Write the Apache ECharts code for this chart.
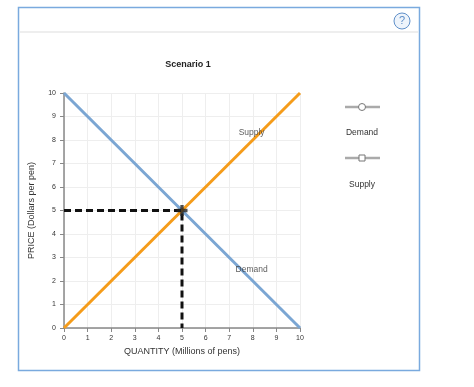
<!DOCTYPE html>
<html><head><meta charset="utf-8">
<script src="https://cdn.jsdelivr.net/npm/echarts@6/dist/echarts.min.js"></script>
<style>html,body{margin:0;padding:0;background:#fff}#c{width:474px;height:387px}</style>
</head><body><div id="c"></div>
<script>
const xTicks = [0,1,2,3,4,5,6,7,8,9,10];
const yTicks = [0,1,2,3,4,5,6,7,8,9,10];
const demandData = [[0,10],[10,0]];
const supplyData = [[0,0],[10,10]];
const equilibriumGuide = [[0,5],[5,5],[5,0]];
const equilibriumPoint = [[5,5]];
const curveLabels = [{name:'Supply', value:[7.95,8.3]},{name:'Demand', value:[7.95,2.5]}];

const chart = echarts.init(document.getElementById('c'));
const axisCommon = {
  type:'value', min:0, max:10, interval:1,
  axisLine:{show:true, lineStyle:{color:'#888', width:1.5}},
  axisTick:{show:true, inside:false, length:4, lineStyle:{color:'#888'}},
  splitLine:{show:true, lineStyle:{color:'#eee'}},
  axisLabel:{fontSize:7, color:'#333', fontFamily:'Arial, Liberation Sans'}
};
chart.setOption({
  animation:false,
  title:{text:'Scenario 1', left:183, top:55, textAlign:'center',
    textStyle:{fontSize:9, fontWeight:'bold', color:'#222', fontFamily:'Liberation Sans'}},
  grid:{left:64, right:474-300, top:93, bottom:387-328},
  xAxis:Object.assign({}, axisCommon, {
    name:'QUANTITY (Millions of pens)', nameLocation:'middle', nameGap:16,
    nameTextStyle:{fontSize:9, color:'#333', fontFamily:'Liberation Sans'},
    axisLabel:Object.assign({}, axisCommon.axisLabel, {margin:7})
  }),
  yAxis:Object.assign({}, axisCommon, {
    name:'PRICE (Dollars per pen)', nameLocation:'middle', nameGap:28,
    nameTextStyle:{fontSize:9, color:'#333', fontFamily:'Liberation Sans'},
    axisLabel:Object.assign({}, axisCommon.axisLabel, {margin:8})
  }),
  graphic:[
    {type:'rect', shape:{x:18.5, y:7.5, width:401, height:363}, style:{fill:'none', stroke:'#7aaade', lineWidth:1.5}},
    {type:'line', shape:{x1:20, y1:32, x2:418, y2:32}, style:{stroke:'#e8e8e8', lineWidth:1.5}},
    {type:'circle', shape:{cx:402, cy:21, r:8}, style:{fill:'#eef4fb', stroke:'#5f8fc8', lineWidth:1}},
    {type:'text', x:402, y:21, style:{text:'?', fontSize:11, fill:'#5f8fc8', align:'center', verticalAlign:'middle', fontFamily:'Liberation Sans'}},
    // legend
    {type:'line', shape:{x1:345, y1:107, x2:380, y2:107}, style:{stroke:'#aaa', lineWidth:2.5}},
    {type:'circle', shape:{cx:362, cy:107, r:3.5}, style:{fill:'#fff', stroke:'#777', lineWidth:1}},
    {type:'text', x:362, y:133, style:{text:'Demand', fontSize:8.5, fill:'#333', align:'center', verticalAlign:'middle', fontFamily:'Liberation Sans'}},
    {type:'line', shape:{x1:345, y1:158, x2:380, y2:158}, style:{stroke:'#aaa', lineWidth:2.5}},
    {type:'rect', shape:{x:359, y:155, width:6, height:6}, style:{fill:'#fff', stroke:'#777', lineWidth:1}},
    {type:'text', x:362, y:185, style:{text:'Supply', fontSize:8.5, fill:'#333', align:'center', verticalAlign:'middle', fontFamily:'Liberation Sans'}}
  ],
  series:[
    {type:'line', name:'Demand', data:demandData, symbol:'none', lineStyle:{color:'#7ba6d3', width:3}, z:3},
    {type:'line', name:'Supply', data:supplyData, symbol:'none', lineStyle:{color:'#f59c1a', width:3}, z:3},
    {type:'line', data:equilibriumGuide, symbol:'none', lineStyle:{color:'#111', width:3, type:[7,4]}, z:4},
    {type:'scatter', data:equilibriumPoint, symbol:'path://M3.5,0H6.5V3.5H10V6.5H6.5V10H3.5V6.5H0V3.5H3.5Z', symbolSize:11,
      itemStyle:{color:'#222'}, z:5},
    {type:'scatter', data:curveLabels, symbolSize:0, z:6,
      label:{show:true, position:'inside', formatter:p=>p.name, fontSize:8.5, color:'#333', fontFamily:'Liberation Sans'}}
  ]
});
</script></body></html>
